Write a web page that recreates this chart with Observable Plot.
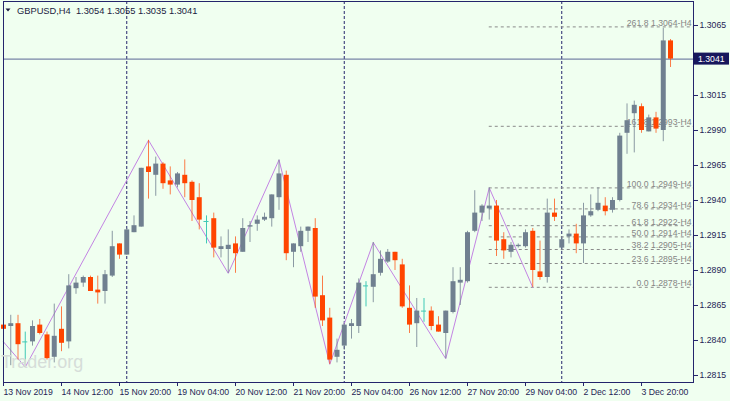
<!DOCTYPE html>
<html><head><meta charset="utf-8">
<script src="https://cdn.jsdelivr.net/npm/d3@7"></script>
<script src="https://cdn.jsdelivr.net/npm/@observablehq/plot@0.6"></script>
<style>
html,body{margin:0;padding:0;background:#F0FFF0;}
svg{display:block;}
</style></head><body><div id="chart"></div>
<script>
const opens  = [1.2851,1.2850,1.2852,1.2839,1.2839,1.2851,1.2844,1.2828,1.2848,1.2839,
                1.2877,1.2881,1.2885,1.2876,1.2875,1.2886,1.2909,1.2901,1.2917,1.2921,
                1.2964,1.2958,1.2966,1.2954,1.2951,1.2958,1.2953,1.2942,1.2925,1.2927,
                1.2905,1.2905,1.2909,1.2903,1.2921,1.2923,1.2926,1.2927,1.2942,1.2958,
                1.2903,1.2907,1.2918,1.2920,1.2872,1.2856,1.2828,1.2836,1.2850,1.2850,
                1.2879,1.2878,1.2888,1.2896,1.2903,1.2894,1.2863,1.2852,1.2861,1.2861,
                1.2851,1.2845,1.2860,1.2881,1.2882,1.2918,1.2931,1.2934,1.2936,1.2912,
                1.2903,1.2907,1.2907,1.2918,1.2889,1.2885,1.2931,1.2906,1.2914,1.2916,
                1.2909,1.2929,1.2933,1.2936,1.2933,1.2940,1.2988,1.3002,1.3007,1.2989,
                1.2999,1.2990,1.3054];
const highs  = [1.2852,1.2858,1.2858,1.2846,1.2854,1.2855,1.2846,1.2866,1.2864,1.2887,
                1.2885,1.2886,1.2886,1.2886,1.2890,1.2918,1.2909,1.2920,1.2929,1.2963,
                1.2983,1.2971,1.2967,1.2964,1.2960,1.2969,1.2954,1.2952,1.2929,1.2931,
                1.2914,1.2919,1.2914,1.2927,1.2925,1.2929,1.2931,1.2944,1.2969,1.2961,
                1.2909,1.2921,1.2921,1.2927,1.2886,1.2863,1.2841,1.2852,1.2855,1.2884,
                1.2882,1.2910,1.2904,1.2905,1.2903,1.2898,1.2879,1.2870,1.2870,1.2864,
                1.2857,1.2861,1.2892,1.2892,1.2918,1.2947,1.2937,1.2949,1.2940,1.2917,
                1.2910,1.2909,1.2919,1.2920,1.2911,1.2941,1.2941,1.2914,1.2919,1.2923,
                1.2938,1.2944,1.2949,1.2942,1.2942,1.2988,1.3009,1.3011,1.3009,1.3001,
                1.3003,1.3063,1.3055];
const lows   = [1.2846,1.2822,1.2826,1.2821,1.2836,1.2844,1.2826,1.2824,1.2832,1.2834,
                1.2873,1.2878,1.2875,1.2866,1.2866,1.2885,1.2898,1.2901,1.2917,1.2921,
                1.2941,1.2943,1.2948,1.2944,1.2949,1.2942,1.2925,1.2919,1.2909,1.2899,
                1.2899,1.2888,1.2888,1.2903,1.2910,1.2918,1.2925,1.2921,1.2933,1.2897,
                1.2892,1.2903,1.2910,1.2863,1.2850,1.2823,1.2824,1.2833,1.2841,1.2845,
                1.2864,1.2867,1.2886,1.2895,1.2890,1.2863,1.2845,1.2835,1.2853,1.2847,
                1.2846,1.2827,1.2859,1.2865,1.2881,1.2917,1.2925,1.2926,1.2900,1.2898,
                1.2899,1.2906,1.2906,1.2878,1.2883,1.2881,1.2925,1.2904,1.2909,1.2902,
                1.2895,1.2928,1.2932,1.2929,1.2931,1.2939,1.2973,1.2974,1.2988,1.2989,
                1.2988,1.2982,1.3035];
const closes = [1.2848,1.2852,1.2837,1.2839,1.2850,1.2845,1.2827,1.2843,1.2838,1.2879,
                1.2881,1.2885,1.2875,1.2874,1.2887,1.2907,1.2901,1.2919,1.2922,1.2963,
                1.2960,1.2966,1.2952,1.2951,1.2959,1.2952,1.2940,1.2926,1.2925,1.2906,
                1.2907,1.2908,1.2902,1.2920,1.2922,1.2926,1.2928,1.2944,1.2959,1.2902,
                1.2909,1.2918,1.2921,1.2871,1.2854,1.2826,1.2833,1.2851,1.2852,1.2881,
                1.2879,1.2887,1.2898,1.2903,1.2897,1.2864,1.2851,1.2861,1.2861,1.2850,
                1.2846,1.2861,1.2882,1.2883,1.2917,1.2931,1.2936,1.2936,1.2911,1.2904,
                1.2908,1.2908,1.2917,1.2890,1.2885,1.2931,1.2928,1.2912,1.2916,1.2909,
                1.2929,1.2932,1.2938,1.2932,1.2940,1.2986,1.2997,1.3008,1.2990,1.2999,
                1.2991,1.3054,1.3041];

const xTickIdx = [0,8,16,24,32,40,48,56,64,72,80,88];
const xTickLabels = ["13 Nov 2019","14 Nov 12:00","15 Nov 20:00","19 Nov 04:00","20 Nov 12:00","21 Nov 20:00",
                     "25 Nov 04:00","26 Nov 12:00","27 Nov 20:00","29 Nov 04:00","2 Dec 12:00","3 Dec 20:00"];
const yTicks = [1.2815,1.2840,1.2865,1.2890,1.2915,1.2940,1.2965,1.2990,1.3015,1.3065];
const separatorIdx = [17,47,77];
const zigIdx   = [0,3,20,31,38,45,51,61,67,73];
const zigPrice = [1.2839,1.2821,1.2983,1.2888,1.2969,1.2823,1.2910,1.2827,1.2949,1.2878];
const fibLevels = [0,23.6,38.2,50,61.8,78.6,100,161.8,261.8];
const fibPrices = [1.2878,1.2895,1.2905,1.2914,1.2922,1.2934,1.2949,1.2993,1.3064];
const fibStartIdx = 67;
const lastPrice = 1.3041;
const headerText = "GBPUSD,H4  1.3054 1.3055 1.3035 1.3041";
const watermark = "Trader.org";

const candles = opens.map((o,i)=>({i, o, h:highs[i], l:lows[i], c:closes[i]}));
const bull = candles.filter(d=>d.c>d.o);
const bear = candles.filter(d=>d.c<d.o);
const doji = candles.filter(d=>d.c===d.o);
const zig = zigIdx.map((x,k)=>({x, y:zigPrice[k]}));
const fib = fibLevels.map((lv,k)=>({lv, p:fibPrices[k]}));

const NAVY = "#24246c", TXT = "#1e1e55";
const GRAY = "#708090", RED = "#FF4500", TEAL = "#3fc9b6";
const FONT = "'Liberation Sans', Arial, sans-serif";
const xMax = 95.17;

const plot = Plot.plot({
  width: 730, height: 401,
  marginLeft: 3, marginRight: 37, marginTop: 1, marginBottom: 19,
  style: {background:"#F0FFF0", fontFamily: FONT, fontSize:"8.7px", color: TXT},
  x: {domain:[0, xMax]},
  y: {domain:[1.2810, 1.308214]},
  marks: [
    Plot.ruleX(separatorIdx, {stroke: NAVY, strokeDasharray:"3,2", strokeWidth:1}),
    Plot.ruleY(fib, {y:"p", x1: fibStartIdx, x2: xMax, stroke:"#8a8a8a", strokeDasharray:"3,3"}),
    Plot.text(fib, {x: xMax, y:"p", text: d=>`${d.lv.toFixed(1)} ${d.p.toFixed(4)}-H4`, textAnchor:"end", lineAnchor:"bottom", dx:-2, dy:-1, fill:"#858585"}),
    Plot.ruleY([lastPrice], {stroke:"#5b6796", strokeWidth:1}),
    Plot.line(zig, {x:"x", y:"y", stroke:"#c384e3", strokeWidth:1}),
    Plot.ruleX(bull, {x:"i", y1:"l", y2:"h", stroke: GRAY, strokeOpacity:0.8}),
    Plot.ruleX(bear, {x:"i", y1:"l", y2:"h", stroke: RED, strokeOpacity:0.7}),
    Plot.ruleX(doji, {x:"i", y1:"l", y2:"h", stroke: TEAL}),
    Plot.ruleX(bull, {x:"i", y1:"o", y2:"c", stroke: GRAY, strokeWidth:5}),
    Plot.ruleX(bear, {x:"i", y1:"o", y2:"c", stroke: RED, strokeWidth:5}),
    Plot.ruleY(doji, {y:"o", x1: d=>d.i-0.35, x2: d=>d.i+0.35, stroke: TEAL}),
    Plot.frame({stroke: NAVY}),
    Plot.axisY(yTicks, {anchor:"right", tickSize:4, tickPadding:2, tickFormat: d=>d.toFixed(4), stroke: NAVY, fill: TXT, label:null}),
    Plot.axisX(xTickIdx, {anchor:"bottom", tickSize:4, tickPadding:2, tickFormat: d=>xTickLabels[xTickIdx.indexOf(d)], textAnchor:"start", dx:0, stroke: NAVY, fill: TXT, label:null})
  ]
});

const svg = d3.select(plot);
const ys = plot.scale("y");
const xs = plot.scale("x");
// header
const hdr = svg.append("g").attr("font-family", FONT).attr("font-size","9.3px").attr("fill","#1a1a40").attr("text-anchor","start");
hdr.append("path").attr("d","M5.5,8.5 L10.5,8.5 L8,11.5 Z").attr("fill","#1a1a40");
hdr.append("text").attr("x",17).attr("y",13.5).attr("text-anchor","start").style("white-space","pre").text(headerText);
// watermark
svg.append("text").attr("x", xs.apply(0)-2).attr("y", 368).attr("text-anchor","start").attr("font-family", FONT)
  .attr("font-size","18px").attr("fill","#d6ddd9").text(watermark);
// last price label
const py = ys.apply(lastPrice);
svg.append("rect").attr("x",693).attr("y",py-6).attr("width",36).attr("height",12).attr("fill","#17175c");
svg.append("text").attr("x",698).attr("y",py+3).attr("text-anchor","start").attr("fill","#ffffff").attr("font-family", FONT).attr("font-size","8.7px").text(lastPrice.toFixed(4));

document.getElementById("chart").appendChild(plot);
</script></body></html>
